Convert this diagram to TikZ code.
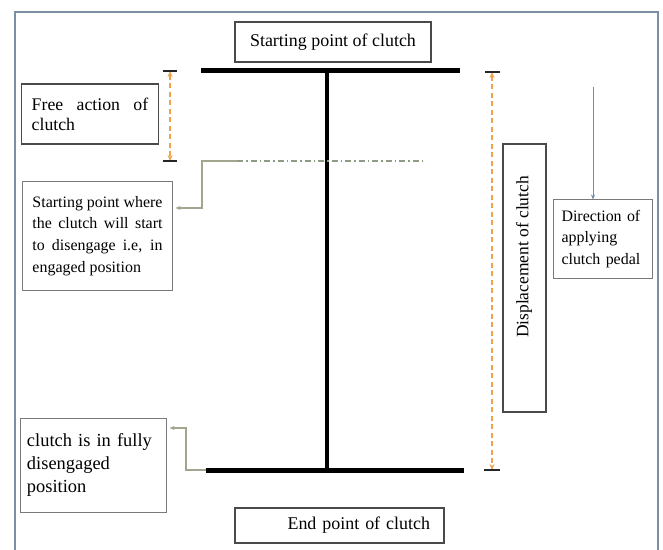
\documentclass[tikz,border=0pt]{standalone}
\usepackage{fontspec}
\setmainfont{Liberation Serif}
\usetikzlibrary{arrows.meta}

\definecolor{framec}{HTML}{7D8FA3}
\definecolor{dimc}{HTML}{EFA24A}
\definecolor{leadc}{HTML}{A2A68E}
\definecolor{axisc}{HTML}{8E9C86}
\definecolor{dirc}{HTML}{6F8CAB}
\definecolor{boxc}{HTML}{4A4A4A}
\definecolor{softbox}{HTML}{7A7A7A}

\tikzset{
  labelbox/.style={draw=boxc, line width=1.3bp, inner ysep=0pt},
  softlabel/.style={draw=softbox, line width=1bp, inner ysep=0pt},
  bar/.style={line width=5bp},
  stem/.style={line width=3.5bp},
  dimline/.style={dimc, line width=1.1bp, dash pattern=on 5bp off 3.5bp,
    {Stealth[length=6bp,width=5bp]}-{Stealth[length=6bp,width=5bp]}},
  dimtick/.style={line width=1.8bp, black!85},
  leader/.style={leadc, line width=1.1bp, -{Stealth[length=5bp,width=4bp]}},
  axisline/.style={axisc, line width=1.1bp, dash pattern=on 6bp off 3bp on 1.5bp off 3bp},
  dirarrow/.style={dirc, line width=1bp, -{Stealth[length=5bp,width=4bp]}},
}

\begin{document}
\begin{tikzpicture}[x=1bp, y=-1bp]
  \useasboundingbox (0,0) rectangle (663,550);
  \fill[white] (0,0) rectangle (663,550);

  % outer frame
  \draw[framec, line width=2.5bp] (15,552) -- (15,12) -- (658,12) -- (658,552);

  % clutch travel: top bar, stem, bottom bar
  \coordinate (tl) at (201,71);
  \coordinate (tr) at (460,71);
  \coordinate (bl) at (206,470);
  \coordinate (br) at (464,470);
  \coordinate (stemT) at (327,71);
  \coordinate (stemB) at (327,470);
  \draw[bar] (tl) -- (tr);
  \draw[bar] (bl) -- (br);
  \draw[stem] (stemT) -- (stemB);

  % labels
  \node[labelbox, minimum width=196bp, minimum height=40bp,
        font=\fontsize{18}{20}\selectfont] (startpt) at (333,42) {Starting point of clutch};
  \node[labelbox, text width=181bp, inner xsep=14bp, minimum height=35bp, align=right,
        font=\fontsize{18}{20}\selectfont] (endpt) at (339.5,525.5) {End point of clutch};
  \node[labelbox, text width=116.5bp, inner xsep=10bp, minimum height=60bp, align=justify,
        font=\fontsize{17.8}{20}\selectfont] (free) at (90,114) {Free action of\linebreak clutch};
  \node[softlabel, text width=130bp, inner xsep=9.5bp, minimum height=108bp, align=justify,
        font=\fontsize{16}{21.7}\selectfont] (engage) at (97.5,236)
        {Starting point where\linebreak the clutch will start\linebreak to disengage i.e, in\linebreak engaged position};
  \node[softlabel, text width=133bp, inner xsep=6bp, minimum height=94bp, align=left,
        font=\fontsize{18.5}{23}\selectfont] (full) at (93.5,465) {clutch is in fully\\disengaged\\position};
  \node[softlabel, text width=82bp, inner xsep=8.5bp, minimum height=78bp, align=left,
        font=\fontsize{16}{21.5}\selectfont] (dir) at (602.5,239) {Direction of\\applying\\clutch pedal};
  \node[labelbox, minimum width=43bp, minimum height=268bp] (dbox) at (524.5,278) {};
  \node[rotate=90, font=\fontsize{17.5}{20}\selectfont] (dtext) at (524,257) {Displacement of clutch};

  % engagement line and its leader
  \coordinate (axisL) at (237,161);
  \coordinate (axisR) at (423,161);
  \draw[axisline] (axisL) -- (axisR);
  \draw[leader, shorten >=3bp] (axisL) -- ++(-35,0) |- ([yshift=28bp]engage.east);

  % leader from the bottom bar
  \draw[leader, shorten >=3bp] (bl) -- ++(-20,0) |- ([yshift=37bp]full.east);

  % free action dimension
  \coordinate (freeTop) at (170,71);
  \coordinate (freeBot) at (170,161);
  \draw[dimline] (freeTop) -- (freeBot);
  \draw[dimtick] ([xshift=-7bp]freeTop) -- ([xshift=7bp]freeTop);
  \draw[dimtick] ([xshift=-7bp]freeBot) -- ([xshift=7bp]freeBot);

  % displacement dimension
  \coordinate (dispTop) at (492,72);
  \coordinate (dispBot) at (492,470);
  \draw[dimline] (dispTop) -- (dispBot);
  \draw[dimtick] ([xshift=-7bp]dispTop) -- ([xshift=8bp]dispTop);
  \draw[dimtick] ([xshift=-8bp]dispBot) -- ([xshift=8bp]dispBot);

  % pedal direction
  \coordinate (dirFrom) at (593,87);
  \draw[dirarrow] (dirFrom) -- (dirFrom |- dir.north);
\end{tikzpicture}
\end{document}
